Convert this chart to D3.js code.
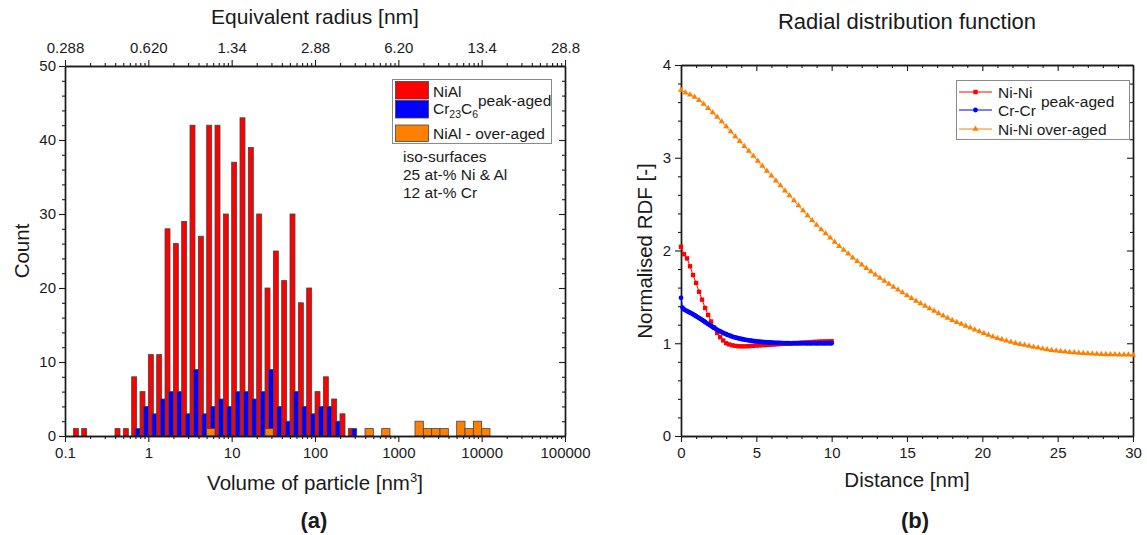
<!DOCTYPE html>
<html><head><meta charset="utf-8">
<script src="https://cdn.jsdelivr.net/npm/d3@7"></script>
<style>
body{margin:0;background:#fff;}
svg text{font-family:"Liberation Sans",Arial,Helvetica,sans-serif;fill:#1a1a1a;}
</style>
</head><body>
<svg id="c" width="1147" height="535"></svg>
<script>
// ---------------- DATA ----------------
// (a) histogram: lower edge of each bin, log10(volume / nm^3)
const volumeBinLog10Start = [-0.9,-0.8,-0.7,-0.6,-0.5,-0.4,-0.3,-0.2,-0.1,0.0,
  0.1,0.2,0.3,0.4,0.5,0.6,0.7,0.8,0.9,1.0,
  1.1,1.2,1.3,1.4,1.5,1.6,1.7,1.8,1.9,2.0,
  2.1,2.2,2.3,2.4,2.5,2.6,2.7,2.8,2.9,3.0,
  3.1,3.2,3.3,3.4,3.5,3.6,3.7,3.8,3.9,4.0];
const binWidthLog10 = 0.1;
const niAlPeakCounts = [1,1,0,0,0,1,1,8,6,11, 11,28,26,29,42,27,42,42,30,37,
  43,39,30,20,25,21,30,18,20,6, 8,5,3,1,0,0,0,0,0,0, 0,0,0,0,0,0,0,0,0,0];
const cr23c6PeakCounts = [0,0,0,0,0,0,0,1,4,3, 5,6,6,3,9,3,4,5,4,6,
  6,5,6,9,4,2,6,4,3,4, 4,2,0,1,0,0,0,0,0,0, 0,0,0,0,0,0,0,0,0,0];
const niAlOverCounts = [0,0,0,0,0,0,0,0,0,0, 0,0,0,0,0,0,1,0,0,0,
  0,0,0,1,0,0,0,0,0,0, 0,0,0,0,0,1,0,1,0,0, 0,2,1,1,1,0,2,1,2,1];
const volumeTicks = [0.1,1,10,100,1000,10000,100000];
const volumeTickLabels = ["0.1","1","10","100","1000","10000","100000"];
const radiusTickLabels = ["0.288","0.620","1.34","2.88","6.20","13.4","28.8"];
const countTicks = [0,10,20,30,40,50];

// (b) radial distribution functions (values at equal distance steps)
const niNiPeakStep = 0.2;
const niNiPeakRDF = [2.04,1.96,1.915,1.83,1.735,1.65,1.555,1.47,1.38,1.305,
  1.235,1.17,1.11,1.065,1.03,1.0,0.987,0.978,0.972,0.968,
  0.967,0.967,0.968,0.97,0.972,0.975,0.977,0.979,0.981,0.983,
  0.985,0.987,0.99,0.992,0.994,0.996,0.998,1.0,1.002,1.004,
  1.006,1.008,1.01,1.012,1.014,1.016,1.018,1.019,1.02,1.021,1.022];
const crCrPeakStep = 0.1;
const crCrPeakRDF = [1.49,1.385,1.365,1.355,1.347,1.338,1.33,1.321,1.312,1.302,
  1.292,1.282,1.272,1.262,1.251,1.24,1.229,1.218,1.207,1.196,
  1.186,1.175,1.165,1.155,1.145,1.136,1.127,1.119,1.111,1.104,
  1.097,1.09,1.084,1.078,1.072,1.067,1.062,1.058,1.054,1.05,
  1.046,1.043,1.04,1.037,1.034,1.031,1.029,1.027,1.024,1.022,
  1.02,1.018,1.017,1.015,1.014,1.012,1.011,1.01,1.009,1.008,
  1.007,1.006,1.005,1.005,1.004,1.003,1.003,1.002,1.002,1.001,
  1.001,1.0,1.0,0.999,1.0,1.001,1.0,0.999,0.999,1.0,
  1.0,1.001,1.0,0.999,1.0,1.0,0.999,1.0,1.001,1.0,
  0.999,1.0,1.0,1.001,1.0,0.999,1.0,1.0,1.001,1.0,1.0];
const niNiOverStep = 0.3;
const niNiOverRDF = [3.73,3.70,3.68,3.655,3.62,3.58,3.533,3.488,3.44,3.39,
  3.336,3.283,3.229,3.177,3.125,3.073,3.02,2.965,2.91,2.856,
  2.806,2.753,2.70,2.645,2.592,2.538,2.484,2.43,2.377,2.325,
  2.275,2.227,2.182,2.137,2.092,2.047,2.005,1.964,1.923,1.884,
  1.846,1.809,1.773,1.738,1.704,1.67,1.638,1.607,1.577,1.548,
  1.516,1.484,1.455,1.428,1.402,1.375,1.349,1.322,1.296,1.271,
  1.248,1.227,1.207,1.187,1.166,1.146,1.126,1.107,1.089,1.071,
  1.055,1.04,1.026,1.014,1.001,0.99,0.98,0.97,0.96,0.951,
  0.941,0.932,0.925,0.919,0.914,0.909,0.904,0.90,0.896,0.892,
  0.889,0.886,0.883,0.881,0.88,0.879,0.878,0.877,0.876,0.875,0.874];
const distanceTicks = [0,5,10,15,20,25,30];
const rdfTicks = [0,1,2,3,4];

// ---------------- STYLE ----------------
const C_RED = "#ff0000", C_BLUE = "#0000ff", C_ORANGE = "#ff8000";
const AX = "#1a1a1a";
const svg = d3.select("#c");

function styleAxis(g){
  g.selectAll(".domain").attr("stroke", AX).attr("stroke-width", 1.4);
  g.selectAll(".tick line").attr("stroke", AX).attr("stroke-width", 1.1);
  g.selectAll(".tick text").attr("font-size", 15).attr("fill", AX)
    .attr("font-family", "Liberation Sans, Arial, sans-serif");
  return g;
}

// ================= (a) =================
const xL = d3.scaleLog().domain([0.1, 100000]).range([65, 565]);
const yL = d3.scaleLinear().domain([0, 50]).range([436, 66]);
const minorVol = [];
volumeTicks.slice(0, -1).forEach(d => { for (let k = 2; k <= 9; k++) minorVol.push(d * k); });
const minorCount = d3.range(0, 51, 2).filter(v => v % 10 !== 0);

const gA = svg.append("g");
// bars
const bars = gA.append("g");
volumeBinLog10Start.forEach((lo, i) => {
  const bx = f => xL(Math.pow(10, lo + f * binWidthLog10));
  if (niAlPeakCounts[i] > 0)
    bars.append("rect").attr("x", bx(0)).attr("width", bx(0.6) - bx(0))
      .attr("y", yL(niAlPeakCounts[i])).attr("height", yL(0) - yL(niAlPeakCounts[i]))
      .attr("fill", C_RED).attr("stroke", "#444").attr("stroke-width", 0.8);
});
volumeBinLog10Start.forEach((lo, i) => {
  const bx = f => xL(Math.pow(10, lo + f * binWidthLog10));
  if (cr23c6PeakCounts[i] > 0)
    bars.append("rect").attr("x", bx(0.43)).attr("width", bx(1) - bx(0.43))
      .attr("y", yL(cr23c6PeakCounts[i])).attr("height", yL(0) - yL(cr23c6PeakCounts[i]))
      .attr("fill", C_BLUE).attr("stroke", "#444").attr("stroke-width", 0.8);
});
volumeBinLog10Start.forEach((lo, i) => {
  const bx = f => xL(Math.pow(10, lo + f * binWidthLog10));
  if (niAlOverCounts[i] > 0)
    bars.append("rect").attr("x", bx(0)).attr("width", bx(1) - bx(0))
      .attr("y", yL(niAlOverCounts[i])).attr("height", yL(0) - yL(niAlOverCounts[i]))
      .attr("fill", C_ORANGE).attr("stroke", "#444").attr("stroke-width", 0.8);
});

// axes (a)
styleAxis(gA.append("g").attr("transform", "translate(0,436)")
  .call(d3.axisBottom(xL).tickValues(volumeTicks).tickFormat((d, i) => volumeTickLabels[i])
    .tickSize(6).tickPadding(5).tickSizeOuter(0)));
styleAxis(gA.append("g").attr("transform", "translate(0,436)")
  .call(d3.axisBottom(xL).tickValues(minorVol).tickFormat("").tickSize(3).tickSizeOuter(0)));
styleAxis(gA.append("g").attr("transform", "translate(0,66)")
  .call(d3.axisTop(xL).tickValues(volumeTicks).tickFormat((d, i) => radiusTickLabels[i])
    .tickSize(6).tickPadding(7).tickSizeOuter(0)));
styleAxis(gA.append("g").attr("transform", "translate(0,66)")
  .call(d3.axisTop(xL).tickValues(minorVol).tickFormat("").tickSize(3).tickSizeOuter(0)));
styleAxis(gA.append("g").attr("transform", "translate(65,0)")
  .call(d3.axisLeft(yL).tickValues(countTicks).tickSize(6).tickPadding(3).tickSizeOuter(0)));
styleAxis(gA.append("g").attr("transform", "translate(65,0)")
  .call(d3.axisLeft(yL).tickValues(minorCount).tickFormat("").tickSize(3).tickSizeOuter(0)));
styleAxis(gA.append("g").attr("transform", "translate(565,0)")
  .call(d3.axisLeft(yL).tickValues(countTicks).tickFormat("").tickSize(6).tickSizeOuter(0)));
styleAxis(gA.append("g").attr("transform", "translate(565,0)")
  .call(d3.axisLeft(yL).tickValues(minorCount).tickFormat("").tickSize(3).tickSizeOuter(0)));

// titles (a)
gA.append("text").attr("x", 315).attr("y", 24).attr("text-anchor", "middle")
  .attr("font-size", 21).text("Equivalent radius [nm]");
const xt = gA.append("text").attr("x", 315).attr("y", 490).attr("text-anchor", "middle").attr("font-size", 20.5);
xt.append("tspan").text("Volume of particle [nm");
xt.append("tspan").attr("font-size", 13).attr("dy", -8).text("3");
xt.append("tspan").attr("dy", 8).text("]");
gA.append("text").attr("transform", "translate(29,251) rotate(-90)").attr("text-anchor", "middle")
  .attr("font-size", 20.5).text("Count");
gA.append("text").attr("x", 314).attr("y", 528).attr("text-anchor", "middle")
  .attr("font-size", 22).attr("font-weight", "bold").text("(a)");

// legend (a)
const lgA = gA.append("g");
lgA.append("rect").attr("x", 392.5).attr("y", 79.5).attr("width", 159).attr("height", 64)
  .attr("fill", "#fff").attr("stroke", "#8a8a8a").attr("stroke-width", 1);
[[C_RED, 81.5], [C_BLUE, 100.5], [C_ORANGE, 125]].forEach(([c, y], i) => {
  lgA.append("rect").attr("x", 395.5).attr("y", y).attr("width", 33)
    .attr("height", i === 2 ? 16.5 : 17.5).attr("fill", c).attr("stroke", "#444").attr("stroke-width", 0.8);
});
lgA.append("text").attr("x", 433).attr("y", 96.5).attr("font-size", 15.5).text("NiAl");
const crT = lgA.append("text").attr("x", 433).attr("y", 113.5).attr("font-size", 15.5);
crT.append("tspan").text("Cr");
crT.append("tspan").attr("font-size", 10.5).attr("dy", 4).text("23");
crT.append("tspan").attr("dy", -4).text("C");
crT.append("tspan").attr("font-size", 10.5).attr("dy", 4).text("6");
lgA.append("text").attr("x", 478).attr("y", 105.5).attr("font-size", 15.5).text("peak-aged");
lgA.append("text").attr("x", 433).attr("y", 138.5).attr("font-size", 15.5).text("NiAl - over-aged");
lgA.append("text").attr("x", 403).attr("y", 162).attr("font-size", 15.5).text("iso-surfaces");
lgA.append("text").attr("x", 403).attr("y", 180).attr("font-size", 15.5).text("25 at-% Ni & Al");
lgA.append("text").attr("x", 403).attr("y", 198).attr("font-size", 15.5).text("12 at-% Cr");

// ================= (b) =================
const xR = d3.scaleLinear().domain([0, 30]).range([681, 1133]);
const yR = d3.scaleLinear().domain([0, 4]).range([436, 65]);
const gB = svg.append("g");
const minorDist = d3.range(0, 31, 1).filter(v => v % 5 !== 0);
const minorRdf = d3.range(0, 4.01, 0.2).map(v => +v.toFixed(1)).filter(v => Math.abs(v - Math.round(v)) > 1e-6);

styleAxis(gB.append("g").attr("transform", "translate(0,436)")
  .call(d3.axisBottom(xR).tickValues(distanceTicks).tickFormat(d3.format("d")).tickSize(6).tickPadding(5).tickSizeOuter(0)));
styleAxis(gB.append("g").attr("transform", "translate(0,436)")
  .call(d3.axisBottom(xR).tickValues(minorDist).tickFormat("").tickSize(3).tickSizeOuter(0)));
styleAxis(gB.append("g").attr("transform", "translate(0,65)")
  .call(d3.axisBottom(xR).tickValues(distanceTicks).tickFormat("").tickSize(6).tickSizeOuter(0)));
styleAxis(gB.append("g").attr("transform", "translate(0,65)")
  .call(d3.axisBottom(xR).tickValues(minorDist).tickFormat("").tickSize(3).tickSizeOuter(0)));
styleAxis(gB.append("g").attr("transform", "translate(681,0)")
  .call(d3.axisLeft(yR).tickValues(rdfTicks).tickFormat(d3.format("d")).tickSize(6).tickPadding(4).tickSizeOuter(0)));
styleAxis(gB.append("g").attr("transform", "translate(681,0)")
  .call(d3.axisLeft(yR).tickValues(minorRdf).tickFormat("").tickSize(3).tickSizeOuter(0)));
styleAxis(gB.append("g").attr("transform", "translate(1133,0)")
  .call(d3.axisLeft(yR).tickValues(rdfTicks).tickFormat("").tickSize(6).tickSizeOuter(0)));
styleAxis(gB.append("g").attr("transform", "translate(1133,0)")
  .call(d3.axisLeft(yR).tickValues(minorRdf).tickFormat("").tickSize(3).tickSizeOuter(0)));

function series(values, step, color, symbol, size){
  const pts = values.map((v, i) => [i * step, v]);
  const g = gB.append("g");
  g.append("path").datum(pts).attr("fill", "none").attr("stroke", color).attr("stroke-width", 1)
    .attr("d", d3.line().x(d => xR(d[0])).y(d => yR(d[1])));
  g.selectAll("path.m").data(pts).join("path").attr("class", "m")
    .attr("transform", d => `translate(${xR(d[0])},${yR(d[1])})`)
    .attr("d", d3.symbol(symbol, size)).attr("fill", color);
}
series(niNiOverRDF, niNiOverStep, C_ORANGE, d3.symbolTriangle, 16);
series(niNiPeakRDF, niNiPeakStep, C_RED, d3.symbolSquare, 19);
series(crCrPeakRDF, crCrPeakStep, C_BLUE, d3.symbolCircle, 18);

// titles (b)
gB.append("text").attr("x", 907).attr("y", 29).attr("text-anchor", "middle")
  .attr("font-size", 22).text("Radial distribution function");
gB.append("text").attr("x", 907).attr("y", 487).attr("text-anchor", "middle")
  .attr("font-size", 20.5).text("Distance [nm]");
gB.append("text").attr("transform", "translate(652,251) rotate(-90)").attr("text-anchor", "middle")
  .attr("font-size", 20.5).text("Normalised RDF [-]");
gB.append("text").attr("x", 915).attr("y", 528).attr("text-anchor", "middle")
  .attr("font-size", 22).attr("font-weight", "bold").text("(b)");

// legend (b)
const lgB = gB.append("g");
lgB.append("rect").attr("x", 956.5).attr("y", 80.5).attr("width", 173).attr("height", 59)
  .attr("fill", "#fff").attr("stroke", "#8a8a8a").attr("stroke-width", 1);
[[C_RED, d3.symbolSquare, 19, 92, "Ni-Ni"], [C_BLUE, d3.symbolCircle, 18, 110, "Cr-Cr"],
 [C_ORANGE, d3.symbolTriangle, 16, 129, "Ni-Ni over-aged"]].forEach(([c, s, sz, y, t]) => {
  lgB.append("line").attr("x1", 959).attr("x2", 992).attr("y1", y).attr("y2", y)
    .attr("stroke", c).attr("stroke-width", 1);
  lgB.append("path").attr("transform", `translate(975.5,${y})`).attr("d", d3.symbol(s, sz)).attr("fill", c);
  lgB.append("text").attr("x", 998).attr("y", y + 5.5).attr("font-size", 15.5).text(t);
});
lgB.append("text").attr("x", 1041).attr("y", 106.5).attr("font-size", 15.5).text("peak-aged");
</script>
</body></html>
